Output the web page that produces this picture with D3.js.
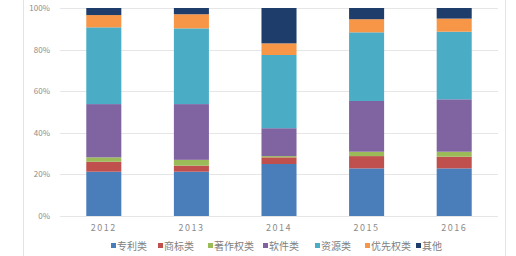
<!DOCTYPE html>
<html>
<head>
<meta charset="utf-8">
<script src="https://d3js.org/d3.v7.min.js"></script>
<style>
  body { margin: 0; background: #fff; }
  text { font-family: "Noto Sans CJK SC", "DejaVu Sans", sans-serif; fill: #7f7f7f; }
</style>
</head>
<body>
<div id="chart"></div>
<script>
// years and categories
var years = ["2012", "2013", "2014", "2015", "2016"];
var categories = ["专利类", "商标类", "著作权类", "软件类", "资源类", "优先权类", "其他"];
var colors = ["#4a7ebb", "#c0504d", "#9bbb59", "#8064a2", "#4bacc6", "#f79646", "#1f3d6b"];

// share of each category per year (%)
var patent    = [21.3, 21.3, 25.0, 22.9, 22.9];
var trademark = [4.8, 2.9, 3.2, 5.9, 5.6];
var copyright = [2.1, 2.8, 0.6, 2.1, 2.4];
var software  = [25.6, 26.8, 13.4, 24.4, 25.2];
var resource  = [36.9, 36.4, 35.2, 33.0, 32.5];
var priority  = [5.9, 6.8, 5.6, 6.3, 6.3];
var other     = [3.4, 3.0, 17.0, 5.4, 5.1];
var series = [patent, trademark, copyright, software, resource, priority, other];

var yTicks = [0, 0.2, 0.4, 0.6, 0.8, 1];

var W = 516, H = 256;
var margin = {top: 8, right: 18, bottom: 40, left: 60};
var width = W - margin.left - margin.right,
    height = H - margin.top - margin.bottom;

var svg = d3.select("#chart").append("svg")
  .attr("width", W).attr("height", H);

// faint chart frame
svg.append("rect")
  .attr("x", 23.5).attr("y", -1).attr("width", 482).attr("height", 258)
  .style("fill", "none").style("stroke", "#e4e4e4");

var g = svg.append("g")
  .attr("transform", "translate(" + margin.left + "," + margin.top + ")");

// build stacked table (normalized)
var table = years.map(function(y, i) {
  var row = {year: y}, total = 0;
  categories.forEach(function(c, k) { total += series[k][i]; });
  categories.forEach(function(c, k) { row[c] = series[k][i] / total; });
  return row;
});
var stacked = d3.stack().keys(categories)(table);

var x = d3.scaleBand().domain(years).range([0, width]).paddingInner(0.6).paddingOuter(0.3);
var y = d3.scaleLinear().domain([0, 1]).range([height, 0]);

// gridlines
g.selectAll(".grid").data(yTicks).enter().append("line")
  .attr("x1", 0).attr("x2", width)
  .attr("y1", function(d) { return Math.round(y(d)) + 0.5; })
  .attr("y2", function(d) { return Math.round(y(d)) + 0.5; })
  .style("stroke", "#e6e6e6");

// y axis labels
var yAxis = g.append("g").call(d3.axisLeft(y).tickValues(yTicks).tickFormat(d3.format(".0%")).tickSize(0).tickPadding(10));
yAxis.select(".domain").remove();
yAxis.selectAll("text").style("font-size", "8px").style("fill", "#8c8c8c");

// bars
g.selectAll(".layer").data(stacked).enter().append("g")
  .style("fill", function(d, i) { return colors[i]; })
  .selectAll("rect").data(function(d) { return d; }).enter().append("rect")
    .attr("x", function(d) { return x(d.data.year); })
    .attr("width", x.bandwidth())
    .attr("y", function(d) { return y(d[1]); })
    .attr("height", function(d) { return y(d[0]) - y(d[1]); });

// x axis labels
var xAxis = g.append("g").attr("transform", "translate(0," + height + ")")
  .call(d3.axisBottom(x).tickSize(0).tickPadding(9));
xAxis.select(".domain").remove();
xAxis.selectAll("text").style("font-size", "9px").style("letter-spacing", "1.5px").style("fill", "#8c8c8c");

// legend
var legendX = [111, 158, 208, 263, 315, 365, 416];
var legend = svg.append("g").attr("transform", "translate(0,246)");
var items = legend.selectAll("g").data(categories).enter().append("g")
  .attr("transform", function(d, i) { return "translate(" + legendX[i] + ",0)"; });
items.append("rect").attr("x", 0).attr("y", -3).attr("width", 5).attr("height", 5)
  .style("fill", function(d, i) { return colors[i]; });
items.append("text").attr("x", 6).attr("y", 0).attr("dy", "0.35em")
  .style("font-size", "10px").style("fill", "#808080")
  .text(function(d) { return d; });
</script>
</body>
</html>
